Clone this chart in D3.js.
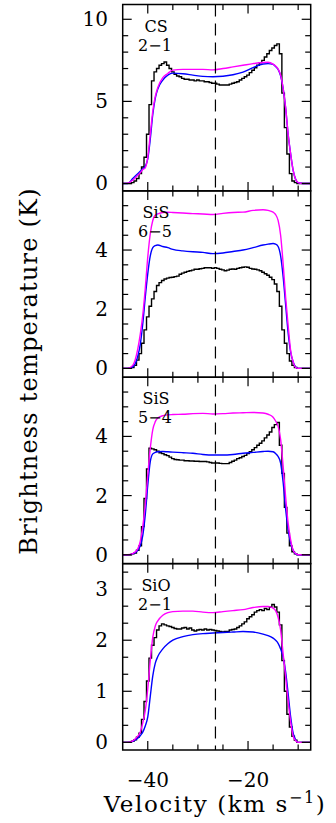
<!DOCTYPE html>
<html>
<head>
<meta charset="utf-8">
<script src="https://cdn.jsdelivr.net/npm/d3@7"></script>
<style>
  body { margin: 0; background: #fff; }
  text { font-family: "DejaVu Serif", serif; fill: #000; }
</style>
</head>
<body>
<div id="chart"></div>
<script>
const width = 336;
const height = 823;

// velocity axis (km/s)
const velDomain = [-45, -7.5];
const vSys = -26.5;
const chanStart = -43;   // centre of first observed channel listed below
const chanWidth = 0.5;

// observed spectra (black histograms), one value per channel from chanStart
const obsCS21 = [0.05,0.15,0.3,0.6,1.0,1.6,3.0,4.8,6.25,6.8,
  7.0,7.2,7.3,7.4,7.2,7.0,6.8,6.65,6.55,6.5,
  6.4,6.35,6.35,6.3,6.3,6.25,6.3,6.25,6.25,6.2,
  6.2,6.15,6.1,6.1,6.05,6.0,6.0,6.0,6.0,6.05,
  6.1,6.15,6.2,6.3,6.4,6.5,6.6,6.75,6.9,7.05,
  7.2,7.35,7.5,7.7,7.9,8.1,8.25,8.4,8.5,7.9,
  5.5,3.4,1.8,0.6,0.15,0.05];
const obsSiS65 = [0.03,0.1,0.28,0.5,0.85,1.3,1.74,2.1,2.35,2.6,
  2.8,2.9,2.97,3.02,3.05,3.07,3.08,3.1,3.12,3.18,
  3.22,3.25,3.28,3.3,3.32,3.35,3.35,3.37,3.38,3.4,
  3.4,3.4,3.38,3.4,3.38,3.35,3.33,3.3,3.32,3.35,
  3.36,3.35,3.38,3.4,3.42,3.43,3.42,3.38,3.36,3.35,
  3.33,3.3,3.25,3.2,3.15,3.08,3.0,2.85,2.6,2.1,
  1.3,0.85,0.5,0.25,0.1,0.03];
const obsSiS54 = [0.03,0.06,0.15,0.3,0.95,1.9,2.9,3.6,3.58,3.55,
  3.5,3.45,3.42,3.38,3.35,3.3,3.25,3.22,3.21,3.2,
  3.2,3.18,3.18,3.17,3.17,3.16,3.16,3.15,3.15,3.15,
  3.14,3.12,3.1,3.1,3.1,3.09,3.08,3.08,3.08,3.12,
  3.16,3.2,3.25,3.28,3.32,3.36,3.42,3.48,3.55,3.62,
  3.7,3.77,3.85,3.95,4.05,4.15,4.3,4.4,4.47,3.7,
  2.75,1.6,0.73,0.3,0.1,0.03];
const obsSiO21 = [0.02,0.05,0.1,0.18,0.45,0.8,1.2,1.65,1.9,2.05,
  2.2,2.28,2.32,2.3,2.28,2.27,2.25,2.23,2.22,2.22,
  2.24,2.25,2.22,2.24,2.2,2.18,2.2,2.21,2.2,2.22,
  2.2,2.21,2.2,2.19,2.18,2.17,2.16,2.17,2.17,2.2,
  2.21,2.22,2.25,2.28,2.32,2.36,2.42,2.46,2.5,2.55,
  2.58,2.6,2.58,2.62,2.6,2.65,2.7,2.65,2.55,2.3,
  1.6,1.0,0.55,0.3,0.12,0.04];

// model velocities shared by the smooth curves
const modelVel = [-45,-44,-43,-42,-41.5,-41,-40.5,-40,-39.5,-39,-38.5,-38,-37,-36,-35,
  -33,-31,-29,-27,-25,-23,-21,-19,-17,-16,-15,-14.5,-14,-13.5,-13,-12.5,-12,-11.5,-11,
  -10.5,-10,-9,-7.5];

// blue and magenta models
const blueCS21 = [0,0,0.3,0.6,0.75,0.9,1.05,1.5,2.7,4.2,5.2,5.75,6.3,6.6,6.72,
  6.68,6.6,6.52,6.5,6.53,6.62,6.78,7.05,7.28,7.3,7.25,7.12,6.95,6.55,5.8,4.6,3.0,1.8,0.8,
  0.25,0.05,0,0];
const magCS21 = [0,0.02,0.2,0.5,0.65,0.85,0.95,1.6,3.0,4.4,5.3,5.85,6.45,6.7,6.9,
  6.95,6.95,6.95,6.92,7.0,7.1,7.2,7.3,7.37,7.38,7.27,7.15,6.97,6.6,5.8,4.6,3.0,1.8,0.8,
  0.25,0.05,0,0];
const blueSiS65 = [0,0,0.05,0.4,0.8,1.5,2.4,3.2,3.8,4.08,4.15,4.17,4.12,4.08,4.02,
  3.97,3.94,3.92,3.88,3.9,3.95,4.0,4.08,4.17,4.2,4.22,4.2,4.12,3.8,3.1,2.15,1.2,0.55,0.22,
  0.05,0,0,0];
const magSiS65 = [0,0,0.1,0.65,1.15,1.8,2.7,3.76,4.55,5.0,5.18,5.22,5.27,5.28,5.27,
  5.25,5.23,5.22,5.2,5.24,5.27,5.28,5.34,5.36,5.34,5.28,5.2,5.0,4.5,3.54,2.4,1.45,0.6,0.22,
  0.03,0,0,0];
const blueSiS54 = [0,0,0.03,0.15,0.3,0.65,1.35,2.35,3.15,3.41,3.46,3.48,3.49,3.48,3.47,
  3.45,3.43,3.39,3.37,3.37,3.39,3.43,3.46,3.49,3.5,3.48,3.42,3.32,3.1,2.45,1.55,0.85,0.4,0.15,
  0.03,0,0,0];
const magSiS54 = [0,0,0.04,0.2,0.45,0.95,1.7,2.7,3.6,4.23,4.5,4.62,4.7,4.73,4.74,
  4.75,4.77,4.78,4.76,4.77,4.79,4.8,4.81,4.79,4.75,4.65,4.52,4.34,3.9,3.0,1.95,1.07,0.5,0.15,
  0.04,0,0,0];
const blueSiO21 = [0,0,0.02,0.08,0.13,0.2,0.32,0.5,0.9,1.3,1.55,1.68,1.83,1.93,2.0,
  2.07,2.11,2.13,2.14,2.15,2.16,2.17,2.16,2.12,2.09,2.04,2.0,1.94,1.83,1.67,1.38,0.95,0.5,0.18,
  0.05,0,0,0];
const magSiO21 = [0,0,0.03,0.12,0.2,0.38,0.62,1.05,1.6,2.06,2.28,2.38,2.49,2.54,2.56,
  2.57,2.57,2.55,2.54,2.56,2.58,2.6,2.64,2.66,2.66,2.63,2.58,2.45,2.2,1.74,1.28,0.8,0.4,0.12,
  0.03,0,0,0];

// panel labels, y ranges and tick spacing
const panelNames = ["CS", "SiS", "SiS", "SiO"];
const panelTrans = ["2\u22121", "6\u22125", "5\u22124", "2\u22121"];
const panelYDomains = [[-0.45, 10.9], [-0.3, 6.0], [-0.3, 6.0], [-0.15, 3.5]];
const panelMajor = [5, 2, 2, 1];
const panelMinor = [1, 0.5, 0.5, 1 / 3];
const panelObs = [obsCS21, obsSiS65, obsSiS54, obsSiO21];
const panelBlue = [blueCS21, blueSiS65, blueSiS54, blueSiO21];
const panelMag = [magCS21, magSiS65, magSiS54, magSiO21];

const xMajor = [-40, -20];
const xMinorStep = 5;

const plotLeft = 122.7, plotRight = 310.7;
const plotTop = 4.5, plotBottom = 750;
const panelH = (plotBottom - plotTop) / 4;

const svg = d3.select("#chart").append("svg")
    .attr("width", width).attr("height", height);

const x = d3.scaleLinear().domain(velDomain).range([plotLeft, plotRight]);

const stepLine = d3.line().x(d => x(d[0])).curve(d3.curveStepAfter);
const smoothLine = d3.line().x(d => x(d[0])).curve(d3.curveMonotoneX);

panelNames.forEach((name, i) => {
    const top = plotTop + i * panelH;
    const bottom = top + panelH;
    const y = d3.scaleLinear().domain(panelYDomains[i]).range([bottom, top]);
    const g = svg.append("g");

    // observed histogram
    const obs = panelObs[i];
    const pts = [[velDomain[0], 0]];
    obs.forEach((val, k) => pts.push([chanStart + k * chanWidth - chanWidth / 2, val]));
    pts.push([chanStart + obs.length * chanWidth - chanWidth / 2, 0]);
    pts.push([velDomain[1], 0]);
    g.append("path")
        .attr("d", stepLine.y(d => y(d[1]))(pts))
        .attr("fill", "none").attr("stroke", "#000").attr("stroke-width", 1.4);

    // models
    [[panelBlue[i], "#0000ff"], [panelMag[i], "#ff00ff"]].forEach(([vals, col]) => {
        const data = modelVel.map((v, k) => [v, vals[k]]);
        g.append("path")
            .attr("d", smoothLine.y(d => y(d[1]))(data))
            .attr("fill", "none").attr("stroke", col).attr("stroke-width", 1.4);
    });

    // frame
    g.append("rect")
        .attr("x", plotLeft).attr("y", top)
        .attr("width", plotRight - plotLeft).attr("height", panelH)
        .attr("fill", "none").attr("stroke", "#000").attr("stroke-width", 1.5);

    // y ticks, both sides, inward
    const dom = panelYDomains[i];
    const minorTicks = d3.range(0, dom[1] - 0.05, panelMinor[i]);
    const majorTicks = d3.range(0, dom[1] - 0.05, panelMajor[i]);
    minorTicks.forEach(t => {
        const isMajor = majorTicks.some(m => Math.abs(m - t) < 1e-6);
        const len = isMajor ? 9 : 5.5;
        g.append("line").attr("x1", plotLeft).attr("x2", plotLeft + len)
            .attr("y1", y(t)).attr("y2", y(t)).attr("stroke", "#000").attr("stroke-width", 1.2);
        g.append("line").attr("x1", plotRight).attr("x2", plotRight - len)
            .attr("y1", y(t)).attr("y2", y(t)).attr("stroke", "#000").attr("stroke-width", 1.2);
    });
    majorTicks.forEach(t => {
        g.append("text").attr("x", 108).attr("y", y(t) + 7)
            .attr("text-anchor", "end").attr("font-size", 20).text(d3.format("d")(t));
    });

    // x ticks, top and bottom, inward
    d3.range(-40, velDomain[1], xMinorStep).forEach(t => {
        const len = xMajor.includes(t) ? 9 : 5.5;
        g.append("line").attr("x1", x(t)).attr("x2", x(t))
            .attr("y1", bottom).attr("y2", bottom - len).attr("stroke", "#000").attr("stroke-width", 1.2);
        g.append("line").attr("x1", x(t)).attr("x2", x(t))
            .attr("y1", top).attr("y2", top + len).attr("stroke", "#000").attr("stroke-width", 1.2);
    });

    // molecule label
    g.append("text").attr("x", 156).attr("y", top + 27).attr("text-anchor", "middle")
        .attr("font-size", 16).text(name);
    g.append("text").attr("x", 155).attr("y", top + 46).attr("text-anchor", "middle")
        .attr("font-size", 16).text(panelTrans[i]);
});

// systemic velocity
svg.append("line")
    .attr("x1", x(vSys)).attr("x2", x(vSys))
    .attr("y1", plotTop).attr("y2", plotBottom)
    .attr("stroke", "#000").attr("stroke-width", 1.2).attr("stroke-dasharray", "12,7");

// x tick labels
xMajor.forEach(t => {
    svg.append("text").attr("x", x(t)).attr("y", 787).attr("text-anchor", "middle")
        .attr("font-size", 20).text("\u2212" + Math.abs(t));
});

// axis titles
const xt = svg.append("text").attr("x", 215).attr("y", 812).attr("text-anchor", "middle")
    .attr("font-size", 23).attr("letter-spacing", 1.6);
xt.append("tspan").text("Velocity (km s");
xt.append("tspan").attr("dy", -9).attr("font-size", 16).text("\u22121");
xt.append("tspan").attr("dy", 9).text(")");

svg.append("text")
    .attr("transform", "translate(37,371) rotate(-90)")
    .attr("text-anchor", "middle").attr("font-size", 24)
    .attr("letter-spacing", 1.2)
    .text("Brightness temperature (K)");
</script>
</body>
</html>
